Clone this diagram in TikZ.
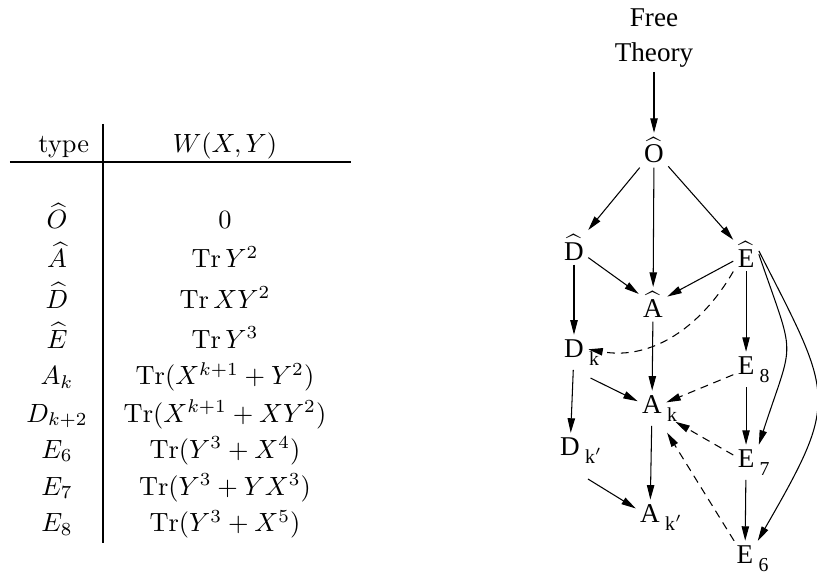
\documentclass[tikz,border=0pt]{standalone}
\usepackage{fontspec}
\usetikzlibrary{arrows.meta}
\newfontfamily\tms{Liberation Serif}
\newcommand{\Trc}{\mathop{\mathrm{Tr}}\nolimits}
\newcommand{\hatl}[1]{$\widehat{\mbox{#1}}$}
\newcommand{\lowsub}[1]{\rlap{\kern2pt\raisebox{-3.2pt}{\fontsize{7.5}{8}\selectfont #1}}}

\begin{document}
\begin{tikzpicture}[
    lbl/.style={font=\tms\fontsize{10.3}{13.3}\selectfont, inner sep=1.5pt},
    arr/.style={-{Triangle[length=5.5pt,width=2.8pt]}},
    dsh/.style={arr, dash pattern=on 3pt off 2.2pt},
    rule/.style={line width=0.8pt}]
    \useasboundingbox (0,0) rectangle (10.893,7.68);
    % table of superpotentials
    \node[anchor=base] (thead) at (0.85,5.64) {type};
    \node[anchor=base] (whead) at (3.0,5.64) {$W(X,Y)$};
    \draw[rule] (0.133,5.52) -- (4.68,5.52);
    \draw[rule] (1.373,6.027) -- (1.373,0.44);
    \foreach \y/\t/\w [count=\i] in {
        4.627/{\widehat{O}}/{0},
        4.107/{\widehat{A}}/{\Trc Y^2},
        3.573/{\widehat{D}}/{\Trc XY^2},
        3.040/{\widehat{E}}/{\Trc Y^3},
        2.547/{A_k}/{\Trc(X^{k+1}+Y^2)},
        2.053/{D_{k+2}}/{\Trc(X^{k+1}+XY^2)},
        1.573/{E_6}/{\Trc(Y^3+X^4)},
        1.080/{E_7}/{\Trc(Y^3+YX^3)},
        0.587/{E_8}/{\Trc(Y^3+X^5)}}{
        \node[anchor=base] (t\i) at (0.76,\y) {$\t$};
        \node[anchor=base] (w\i) at (3.0,\y) {$\w$};
    }
    % flow diagram
    \node[lbl, align=center] (free) at (8.72,7.173) {Free\\Theory};
    \node[lbl, anchor=base] (O) at (8.72,5.507) {\hatl{O}};
    \node[lbl, anchor=base] (D) at (7.653,4.213) {\hatl{D}};
    \node[lbl, anchor=base] (E) at (9.947,4.12) {\hatl{E}};
    \node[lbl, anchor=base] (A) at (8.707,3.453) {\hatl{A}};
    \node[lbl, anchor=base] (Dk) at (7.653,2.92) {D\lowsub{k}};
    \node[lbl, anchor=base] (E8) at (9.947,2.693) {E\lowsub{8}};
    \node[lbl, anchor=base] (Ak) at (8.693,2.173) {A\lowsub{k}};
    \node[lbl, anchor=base] (Dkp) at (7.6,1.613) {D\lowsub{k$'$}};
    \node[lbl, anchor=base] (E7) at (9.947,1.453) {E\lowsub{7}};
    \node[lbl, anchor=base] (Akp) at (8.667,0.72) {A\lowsub{k$'$}};
    \node[lbl, anchor=base] (E6) at (9.933,0.173) {E\lowsub{6}};

    \draw[arr] (free) -- (O);
    \draw[arr] (O) -- (D);
    \draw[arr] (O) -- (A);
    \draw[arr] (O) -- (E);
    \draw[arr] (D) -- (A);
    \draw[arr] (E) -- (A);
    \draw[arr] (D) -- (Dk);
    \draw[arr] (A) -- (Ak);
    \draw[arr] (E) -- (E8);
    \draw[arr, shorten <=7pt] (Dk.south) -- (Ak);
    \draw[arr] (Dk) -- (Dkp);
    \draw[arr] (Ak) -- (Akp);
    \draw[arr, shorten <=8pt] (Dkp.south) -- (Akp);
    \draw[arr] (E8) -- (E7);
    \draw[arr] (E7) -- (E6);
    \draw[dsh] (E.south west) to[out=-120,in=-10] (Dk.12);
    \draw[dsh] (E8) -- (Ak);
    \draw[dsh, shorten >=4pt] (E7) -- (Ak);
    \draw[dsh, shorten >=3pt] (E6) -- (Ak);
    \draw[arr] (E.east) to[out=-71,in=72,looseness=1.55] (E7.north east);
    \draw[arr] (E.15) to[out=-63,in=60,looseness=1.45] (E6.north east);
\end{tikzpicture}
\end{document}
